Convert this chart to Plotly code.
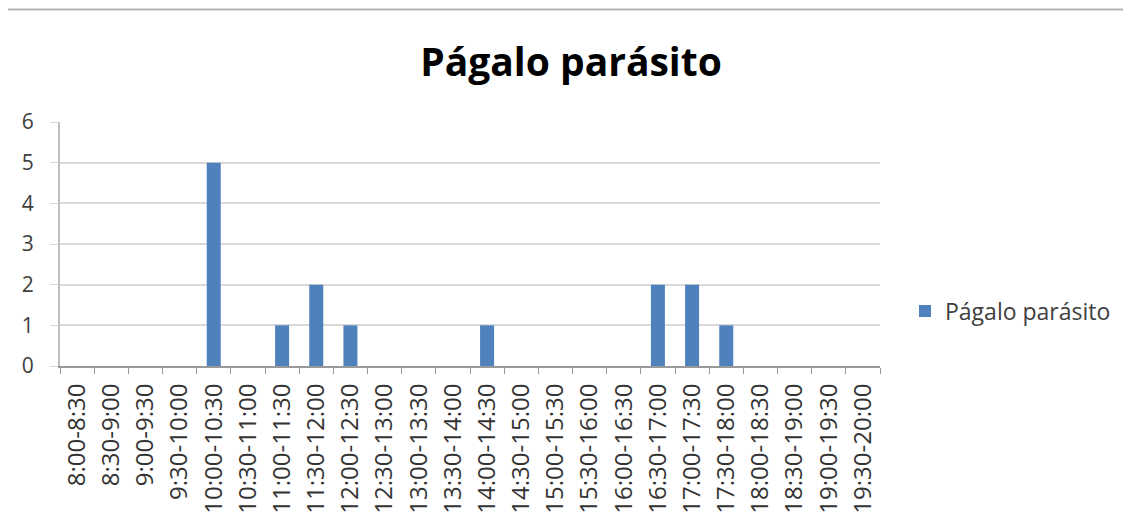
import plotly.graph_objects as go

categories = ["8:00-8:30", "8:30-9:00", "9:00-9:30", "9:30-10:00", "10:00-10:30",
              "10:30-11:00", "11:00-11:30", "11:30-12:00", "12:00-12:30", "12:30-13:00",
              "13:00-13:30", "13:30-14:00", "14:00-14:30", "14:30-15:00", "15:00-15:30",
              "15:30-16:00", "16:00-16:30", "16:30-17:00", "17:00-17:30", "17:30-18:00",
              "18:00-18:30", "18:30-19:00", "19:00-19:30", "19:30-20:00"]
values = [0, 0, 0, 0, 5, 0, 1, 2, 1, 0, 0, 0, 1, 0, 0, 0, 0, 2, 2, 1, 0, 0, 0, 0]
series_name = "Págalo parásito"
y_ticks = [0, 1, 2, 3, 4, 5, 6]

FONT = "Open Sans, Noto Sans, DejaVu Sans, sans-serif"

# page body has an 8px margin; work in reference pixel coords and shift
OFF = 8
W, H = 1131 - OFF, 521 - OFF
L, R, T, B = 60 - OFF, 880 - OFF, 122 - OFF, 366 - OFF

def px_x(p):
    return (p - OFF - L) / (R - L)

def px_y(p):
    return (B - (p - OFF)) / (B - T)

fig = go.Figure()
fig.add_trace(go.Bar(
    x=categories, y=values, name=series_name,
    marker=dict(color="#4F81BD", line=dict(width=0)),
))

shapes = [
    dict(type="line", xref="paper", yref="paper",
         x0=px_x(8), x1=px_x(1131), y0=px_y(9.5), y1=px_y(9.5),
         line=dict(color="#b3b3b3", width=2)),
]

fig.update_layout(
    width=W, height=H,
    margin=dict(l=L, r=W - R, t=T, b=H - B, pad=0, autoexpand=False),
    paper_bgcolor="white", plot_bgcolor="white",
    title=dict(text="<b>Págalo parásito</b>", x=px_x(571), xref="paper",
               xanchor="center", y=1 - (62 - OFF) / H, yanchor="middle",
               font=dict(family=FONT, size=39, color="#000000")),
    showlegend=True,
    legend=dict(x=px_x(905), y=px_y(311), xanchor="left", yanchor="middle",
                font=dict(family=FONT, size=23, color="#404040"),
                itemsizing="constant", bgcolor="rgba(0,0,0,0)"),
    bargap=0.59,
    shapes=shapes,
    xaxis=dict(
        type="category", tickangle=-90, tickson="boundaries",
        ticks="outside", ticklen=6, tickcolor="#999999",
        showline=True, linecolor="#999999", linewidth=2,
        tickfont=dict(family=FONT, size=24, color="#333333"),
        ticklabelstandoff=6, automargin=False,
        showgrid=False,
    ),
    yaxis=dict(
        range=[0, 6], tickvals=y_ticks, ticks="outside", ticklen=8,
        tickcolor="#d9d9d9",
        showline=True, linecolor="#bfbfbf", linewidth=2,
        showgrid=True, gridcolor="#d9d9d9", gridwidth=2,
        zeroline=False, automargin=False,
        ticklabelstandoff=12,
        tickfont=dict(family=FONT, size=21, color="#404040"),
    ),
)

fig.write_html("out.html")
